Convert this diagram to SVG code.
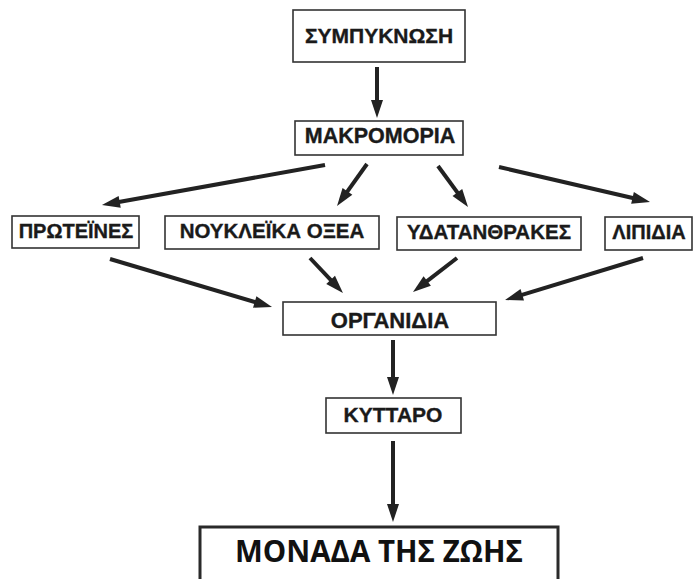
<svg xmlns="http://www.w3.org/2000/svg" width="694" height="579" viewBox="0 0 694 579">
  <style>
    .box { fill: #ffffff; stroke: #333333; stroke-width: 1.6; }
    .big { fill: #ffffff; stroke: #2a2a2a; stroke-width: 3; }
    .lbl { font-family: "Liberation Sans", Arial, sans-serif; font-weight: bold; font-size: 20px; fill: #1a1a1a; stroke: #1a1a1a; stroke-width: 0.35; text-anchor: middle; }
    .ttl { font-family: "Open Sans", "Noto Sans", sans-serif; font-weight: 700; font-size: 30px; fill: #111111; text-anchor: middle; }
    .arr { stroke: #222222; stroke-width: 4; fill: none; marker-end: url(#head); }
  </style>
  <defs>
    <marker id="head" markerUnits="userSpaceOnUse" markerWidth="18" markerHeight="12" refX="8" refY="6" orient="auto" overflow="visible">
      <path d="M0,0 L18,6 L0,12 z" fill="#222222"/>
    </marker>
  </defs>
  <rect width="694" height="579" fill="#ffffff"/>

  <g id="connectors">
    <line class="arr" x1="377" y1="67" x2="377" y2="108"/>
    <line class="arr" x1="325" y1="165" x2="111.8" y2="203.2"/>
    <line class="arr" x1="367" y1="164" x2="342.8" y2="197.9"/>
    <line class="arr" x1="438" y1="166" x2="462.1" y2="198.9"/>
    <line class="arr" x1="499" y1="167" x2="640.3" y2="199.7"/>
    <line class="arr" x1="110" y1="259" x2="262.4" y2="304.2"/>
    <line class="arr" x1="310" y1="258" x2="336.1" y2="285.7"/>
    <line class="arr" x1="457" y1="258" x2="420.9" y2="285.9"/>
    <line class="arr" x1="643" y1="258" x2="514.6" y2="297.1"/>
    <line class="arr" x1="393" y1="340" x2="393" y2="385"/>
    <line class="arr" x1="393" y1="441" x2="393" y2="512"/>
  </g>

  <g id="sympyknosi">
    <rect class="box" x="293" y="10" width="172" height="52"/>
    <text class="lbl" x="379" y="43" style="font-size:21px">ΣΥΜΠΥΚΝΩΣΗ</text>
  </g>
  <g id="makromoria">
    <rect class="box" x="295" y="121" width="168" height="34"/>
    <text class="lbl" x="380" y="143" style="font-size:21.5px">ΜΑΚΡΟΜΟΡΙΑ</text>
  </g>
  <g id="proteines">
    <rect class="box" x="12" y="216" width="127" height="32"/>
    <text class="lbl" x="76" y="238">ΠΡΩΤΕΪΝΕΣ</text>
  </g>
  <g id="noukleika">
    <rect class="box" x="165" y="216" width="214" height="33"/>
    <text class="lbl" x="272" y="238" style="font-size:20.5px">ΝΟΥΚΛΕΪΚΑ ΟΞΕΑ</text>
  </g>
  <g id="ydatanthrakes">
    <rect class="box" x="397" y="217" width="184" height="33"/>
    <text class="lbl" x="489" y="239" style="font-size:20.5px">ΥΔΑΤΑΝΘΡΑΚΕΣ</text>
  </g>
  <g id="lipidia">
    <rect class="box" x="605" y="217" width="87" height="33"/>
    <text class="lbl" x="649" y="239">ΛΙΠΙΔΙΑ</text>
  </g>
  <g id="organidia">
    <rect class="box" x="283" y="302" width="213" height="33"/>
    <text class="lbl" x="390" y="328" style="font-size:22px">ΟΡΓΑΝΙΔΙΑ</text>
  </g>
  <g id="kyttaro">
    <rect class="box" x="326" y="398" width="135" height="35"/>
    <text class="lbl" x="393" y="422" style="font-size:21px">ΚΥΤΤΑΡΟ</text>
  </g>
  <g id="monada">
    <rect class="big" x="200" y="527" width="358" height="62"/>
    <text class="ttl" x="379" y="562" textLength="288" lengthAdjust="spacingAndGlyphs">ΜΟΝΑΔΑ ΤΗΣ ΖΩΗΣ</text>
  </g>
</svg>
